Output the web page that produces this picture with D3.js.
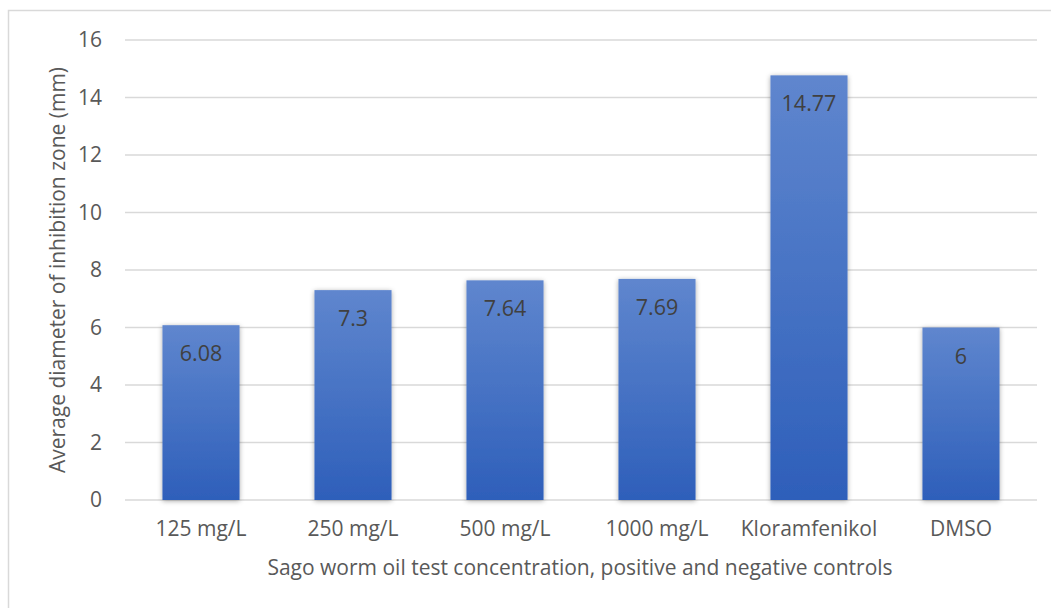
<!DOCTYPE html>
<html>
<head>
<meta charset="utf-8">
<script src="https://cdn.jsdelivr.net/npm/d3@7"></script>
<style>
  body { margin: 0; background: #fff; }
  svg { display: block; font-family: "Open Sans", sans-serif; }
</style>
</head>
<body>
<div id="container"></div>
<script>
var categories = ["125 mg/L", "250 mg/L", "500 mg/L", "1000 mg/L", "Kloramfenikol", "DMSO"];
var values = [6.08, 7.3, 7.64, 7.69, 14.77, 6];
var valueLabels = ["6.08", "7.3", "7.64", "7.69", "14.77", "6"];
var yTicks = [0, 2, 4, 6, 8, 10, 12, 14, 16];

var W = 1051, H = 608;
var plot = { left: 125, right: 1037, top: 40, bottom: 500 };
var textColor = "#595959";
var fontSize = "21px";

var svg = d3.select("#container").append("svg")
  .attr("width", W).attr("height", H);

var defs = svg.append("defs");
var grad = defs.append("linearGradient")
  .attr("id", "barGrad").attr("x1", 0).attr("y1", 0).attr("x2", 0).attr("y2", 1);
grad.append("stop").attr("offset", "0%").attr("stop-color", "#5F86CE");
grad.append("stop").attr("offset", "100%").attr("stop-color", "#2E5FBA");

var shadow = defs.append("filter").attr("id", "shadow")
  .attr("x", "-20%").attr("y", "-10%").attr("width", "140%").attr("height", "120%");
shadow.append("feDropShadow")
  .attr("dx", 0).attr("dy", 1).attr("stdDeviation", 2.5)
  .attr("flood-color", "#000").attr("flood-opacity", 0.35);

// chart area border
svg.append("rect")
  .attr("x", 8.5).attr("y", 10.5)
  .attr("width", 1100).attr("height", 700)
  .attr("fill", "#fff").attr("stroke", "#d9d9d9").attr("stroke-width", 1.5);

var x = d3.scaleBand().domain(categories)
  .range([plot.left, plot.right]).paddingInner(0.493).paddingOuter(0.2465);
var y = d3.scaleLinear().domain([0, 16]).range([plot.bottom, plot.top]);

// gridlines
svg.append("g").selectAll("line")
  .data(yTicks).enter().append("line")
  .attr("x1", plot.left).attr("x2", plot.right)
  .attr("y1", function (d) { return y(d); })
  .attr("y2", function (d) { return y(d); })
  .attr("stroke", "#d9d9d9").attr("stroke-width", 1.5);

// y tick labels
var yAxis = svg.append("g")
  .attr("transform", "translate(" + plot.left + ",0)")
  .call(d3.axisLeft(y).tickValues(yTicks).tickSize(0).tickPadding(23));
yAxis.select(".domain").remove();
yAxis.selectAll("text")
  .attr("fill", textColor).style("font-size", fontSize)
  .style("font-family", "'Open Sans', sans-serif");

// bars
svg.append("g").selectAll("rect.bar")
  .data(values).enter().append("rect")
  .attr("class", "bar")
  .attr("x", function (d, i) { return x(categories[i]); })
  .attr("width", x.bandwidth())
  .attr("y", function (d) { return y(d); })
  .attr("height", function (d) { return y(0) - y(d); })
  .attr("fill", "url(#barGrad)")
  .attr("filter", "url(#shadow)");

// data labels
svg.append("g").selectAll("text.label")
  .data(values).enter().append("text")
  .attr("class", "label")
  .attr("x", function (d, i) { return x(categories[i]) + x.bandwidth() / 2; })
  .attr("y", function (d) { return y(d) + 36; })
  .attr("text-anchor", "middle")
  .attr("fill", "#404040")
  .style("font-size", "21.5px")
  .text(function (d, i) { return valueLabels[i]; });

// x tick labels
var xAxis = svg.append("g")
  .attr("transform", "translate(0," + plot.bottom + ")")
  .call(d3.axisBottom(x).tickSize(0).tickPadding(21));
xAxis.select(".domain").remove();
xAxis.selectAll("text")
  .attr("fill", textColor).style("font-size", fontSize)
  .style("font-family", "'Open Sans', sans-serif");

// axis titles
svg.append("text")
  .attr("x", (plot.left + plot.right) / 2 - 1).attr("y", 575)
  .attr("text-anchor", "middle").attr("fill", textColor)
  .style("font-size", fontSize)
  .text("Sago worm oil test concentration, positive and negative controls");

svg.append("text")
  .attr("transform", "translate(65," + (plot.top + plot.bottom) / 2 + ") rotate(-90)")
  .attr("text-anchor", "middle").attr("fill", textColor)
  .style("font-size", fontSize)
  .text("Average diameter of inhibition zone (mm)");
</script>
</body>
</html>
